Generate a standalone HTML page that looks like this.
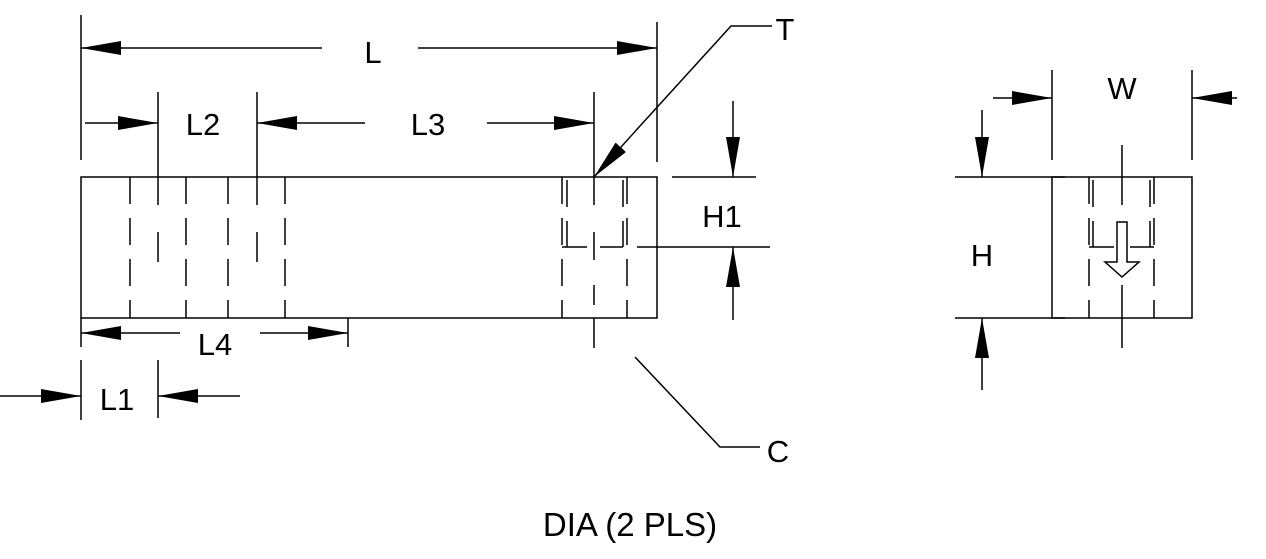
<!DOCTYPE html>
<html><head><style>body{margin:0;background:#fff}svg{display:block}text{font-family:"Liberation Sans",sans-serif;font-size:31px;fill:#000}</style></head>
<body>
<svg width="1266" height="559" viewBox="0 0 1266 559" xmlns="http://www.w3.org/2000/svg">
<defs>
<marker id="a" viewBox="0 0 40 14" refX="40" refY="7" markerWidth="40" markerHeight="14" markerUnits="userSpaceOnUse" orient="auto"><path d="M0,0 L40,7 L0,14 Z" fill="#000"/></marker>
</defs>
<g stroke="#000" stroke-width="1.5" fill="none">
<rect x="81" y="177" width="576" height="141"/>
<g stroke-dasharray="27,14">
<line x1="130" y1="177" x2="130" y2="318"/><line x1="186" y1="177" x2="186" y2="318"/>
<line x1="228" y1="177" x2="228" y2="318"/><line x1="285" y1="177" x2="285" y2="318"/>
<line x1="562" y1="177" x2="562" y2="318"/><line x1="627" y1="177" x2="627" y2="318"/>
<line x1="567" y1="180" x2="567" y2="247"/><line x1="623" y1="180" x2="623" y2="247"/>
</g>
<line x1="158" y1="92" x2="158" y2="205"/><line x1="158" y1="232" x2="158" y2="262"/>
<line x1="257" y1="92" x2="257" y2="205"/><line x1="257" y1="232" x2="257" y2="262"/>
<line x1="594" y1="92" x2="594" y2="205"/><line x1="594" y1="232" x2="594" y2="260"/><line x1="594" y1="285" x2="594" y2="305"/><line x1="594" y1="318" x2="594" y2="348"/>
<line x1="562" y1="247" x2="587" y2="247"/><line x1="600" y1="247" x2="623" y2="247"/><line x1="637" y1="247" x2="770" y2="247"/>
<line x1="672" y1="177" x2="756" y2="177"/>
<line x1="81" y1="15" x2="81" y2="160"/><line x1="657" y1="22" x2="657" y2="162"/>
<line x1="322" y1="48" x2="81" y2="48" marker-end="url(#a)"/><line x1="418" y1="48" x2="657" y2="48" marker-end="url(#a)"/>
<line x1="85" y1="123" x2="158" y2="123" marker-end="url(#a)"/>
<line x1="365" y1="123" x2="257" y2="123" marker-end="url(#a)"/>
<line x1="487" y1="123" x2="594" y2="123" marker-end="url(#a)"/>
<polyline points="772,26 731,26 640,126"/><line x1="640" y1="126" x2="594" y2="177" marker-end="url(#a)"/>
<polyline points="635,357 720,447 760,447"/>
<line x1="733" y1="101" x2="733" y2="177" marker-end="url(#a)"/>
<line x1="733" y1="320" x2="733" y2="247" marker-end="url(#a)"/>
<line x1="81" y1="318" x2="81" y2="347"/><line x1="348" y1="318" x2="348" y2="347"/>
<line x1="180" y1="333" x2="81" y2="333" marker-end="url(#a)"/><line x1="260" y1="333" x2="348" y2="333" marker-end="url(#a)"/>
<line x1="81" y1="360" x2="81" y2="420"/><line x1="158" y1="360" x2="158" y2="418"/>
<line x1="0" y1="396" x2="81" y2="396" marker-end="url(#a)"/><line x1="240" y1="396" x2="158" y2="396" marker-end="url(#a)"/>
<rect x="1052" y="177" width="140" height="141"/>
<g stroke-dasharray="27,14">
<line x1="1089" y1="177" x2="1089" y2="318"/><line x1="1154" y1="177" x2="1154" y2="318"/>
<line x1="1093" y1="180" x2="1093" y2="247"/><line x1="1150" y1="180" x2="1150" y2="247"/>
</g>
<line x1="1122" y1="145" x2="1122" y2="205"/><line x1="1122" y1="232" x2="1122" y2="262"/><line x1="1122" y1="285" x2="1122" y2="348"/>
<line x1="1089" y1="247" x2="1114" y2="247"/><line x1="1130" y1="247" x2="1154" y2="247"/>
<path d="M1117,222 h10 v40 h12 l-17,15 l-17,-15 h12 z" fill="#fff"/>
<line x1="1052" y1="70" x2="1052" y2="160"/><line x1="1192" y1="70" x2="1192" y2="160"/>
<line x1="993" y1="98" x2="1052" y2="98" marker-end="url(#a)"/><line x1="1237" y1="98" x2="1192" y2="98" marker-end="url(#a)"/>
<line x1="955" y1="177" x2="1065" y2="177"/><line x1="955" y1="318" x2="1065" y2="318"/>
<line x1="982" y1="110" x2="982" y2="177" marker-end="url(#a)"/><line x1="982" y1="390" x2="982" y2="318" marker-end="url(#a)"/>
</g>
<text x="373" y="63" text-anchor="middle">L</text>
<text x="203" y="135" text-anchor="middle">L2</text>
<text x="428" y="135" text-anchor="middle">L3</text>
<text x="785" y="40" text-anchor="middle">T</text>
<text x="722" y="227" text-anchor="middle">H1</text>
<text x="215" y="355" text-anchor="middle">L4</text>
<text x="117" y="410" text-anchor="middle">L1</text>
<text x="778" y="462" text-anchor="middle">C</text>
<text x="1122" y="99" text-anchor="middle">W</text>
<text x="982" y="266" text-anchor="middle">H</text>
<text x="630" y="536" text-anchor="middle" style="font-size:33px">DIA (2 PLS)</text>
</svg>
</body></html>
